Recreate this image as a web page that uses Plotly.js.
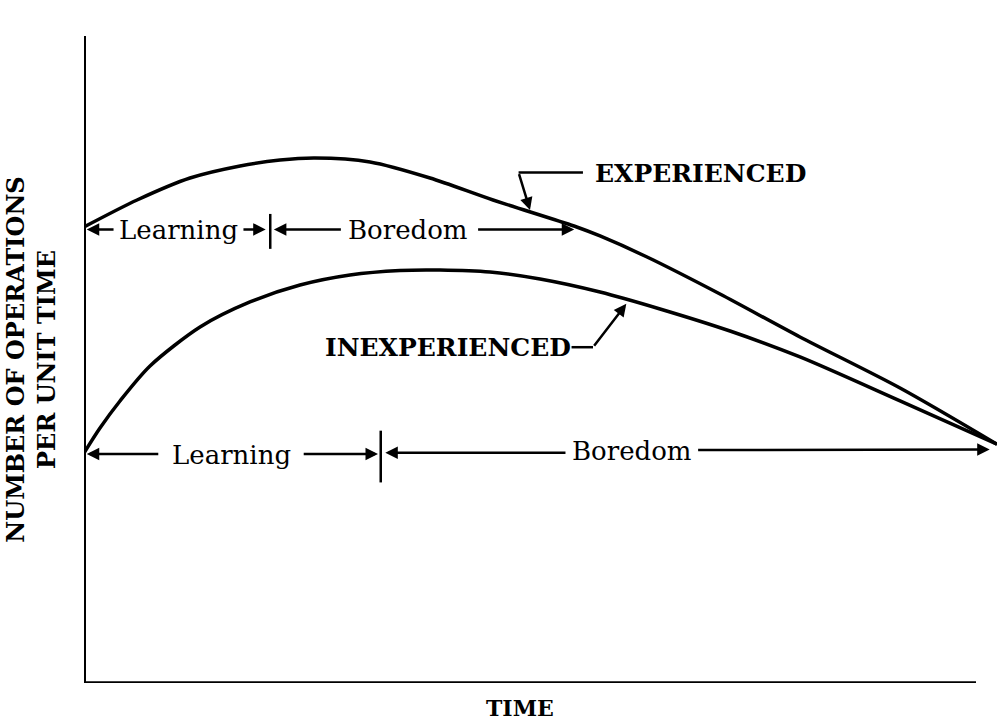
<!DOCTYPE html>
<html><head><meta charset="utf-8">
<script src="https://cdn.plot.ly/plotly-3.0.1.min.js"></script>
<style>html,body{margin:0;padding:0;background:#fff}</style>
</head><body><div id="chart" style="width:998px;height:721px"></div>
<script>
// Curves (arbitrary units, 0-100 on both axes)
const expX   = [0, 5.81, 11.61, 17.09, 21.47, 25.30, 31.33, 37.90, 44.80, 53.67, 56.52, 61.67, 69.66, 78.42, 89.38, 100];
const expY   = [70.48, 74.65, 78.05, 79.91, 80.83, 81.14, 80.53, 78.05, 74.65, 70.63, 69.09, 65.84, 60.12, 53.48, 45.59, 36.9];
const inexpX = [0, 1.75, 3.94, 7.23, 12.71, 18.18, 23.66, 29.13, 34.61, 38.99, 44.47, 49.95, 56.52, 63.09, 70.76, 78.42, 89.38, 100];
const inexpY = [35.55, 39.41, 43.59, 49.00, 55.02, 58.89, 61.51, 63.06, 63.76, 63.83, 63.52, 62.44, 60.43, 57.81, 54.40, 50.39, 43.59, 36.9];
const seriesNames = ['EXPERIENCED', 'INEXPERIENCED'];
const phaseNames = ['Learning', 'Boredom'];
const xTitle = 'TIME';
const yTitle = 'NUMBER OF OPERATIONS<br>PER UNIT TIME';

const FONT = 'DejaVu Serif';
const LW = 3.5;

const traces = [
  {x: expX, y: expY, mode: 'lines', name: seriesNames[0], line: {color: '#000', width: LW, shape: 'spline', smoothing: 0.8}},
  {x: inexpX, y: inexpY, mode: 'lines', name: seriesNames[1], line: {color: '#000', width: LW, shape: 'spline', smoothing: 0.8}}
];

function arrow(x, y, ax, ay) {
  return {x: x, y: y, ax: ax, ay: ay, xref: 'x', yref: 'y', axref: 'x', ayref: 'y',
    text: '', showarrow: true, arrowhead: 2, arrowsize: 1, arrowwidth: 2.5, arrowcolor: '#000', standoff: 0, startstandoff: 0};
}
function label(text, x, y, bold, size) {
  return {x: x, y: y, xref: 'x', yref: 'y', text: bold ? '<b>' + text + '</b>' : text, showarrow: false,
    font: {family: FONT, size: size || 26, color: '#000'}, xanchor: 'center', yanchor: 'middle'};
}
function seg(x0, y0, x1, y1, w) {
  return {type: 'line', xref: 'x', yref: 'y', x0: x0, y0: y0, x1: x1, y1: y1, line: {color: '#000', width: w || 2.5}};
}

const annotations = [
  // upper (experienced) phases
  arrow(0.3, 70.1, 3.4, 70.1),
  label(phaseNames[0], 10.3, 70.0),
  arrow(19.9, 70.1, 17.3, 70.1),
  arrow(20.8, 70.1, 28.3, 70.1),
  label(phaseNames[1], 35.5, 70.0),
  arrow(53.7, 70.1, 43.0, 70.1),
  // lower (inexperienced) phases
  arrow(0.3, 35.4, 8.3, 35.4),
  label(phaseNames[0], 16.2, 35.3),
  arrow(32.2, 35.4, 23.9, 35.4),
  arrow(33.0, 35.6, 52.9, 35.6),
  label(phaseNames[1], 60.0, 35.8),
  arrow(99.2, 36.1, 67.1, 36.0),
  // series labels
  label(seriesNames[0], 67.5, 78.7, true, 25),
  arrow(48.85, 73.1, 47.6, 78.9),
  label(seriesNames[1], 39.9, 51.9, true, 25),
  arrow(59.4, 58.6, 55.75, 51.9),
  // x title
  {x: 0.478, y: -0.039, xref: 'paper', yref: 'paper', text: '<b>' + xTitle + '</b>', showarrow: false,
   font: {family: FONT, size: 22, color: '#000'}, xanchor: 'center', yanchor: 'middle'}
];

const shapes = [
  // axes
  {type: 'line', xref: 'x', yref: 'paper', x0: 0, x1: 0, y0: 0, y1: 1, line: {color: '#000', width: 4}},
  {type: 'line', xref: 'x', yref: 'y', x0: -0.2, x1: 97.7, y0: 0, y1: 0, line: {color: '#000', width: 3.5}},
  // phase boundary ticks
  seg(20.4, 67.1, 20.4, 72.5, 2.5),
  seg(32.5, 31.0, 32.5, 39.0, 2.5),
  // leader lines
  seg(54.65, 78.9, 47.6, 78.9, 2.5),
  seg(53.4, 51.9, 55.75, 51.9, 2.5)
];

const layout = {
  width: 998, height: 721,
  margin: {l: 84, r: 1, t: 36, b: 38},
  paper_bgcolor: '#fff', plot_bgcolor: '#fff',
  showlegend: false,
  xaxis: {range: [0, 100], showgrid: false, zeroline: false, showticklabels: false, ticks: '', showline: false, fixedrange: true},
  yaxis: {range: [0, 100], showgrid: false, zeroline: false, showticklabels: false, ticks: '', showline: false, fixedrange: true,
    title: {text: '<b>' + yTitle + '</b>', font: {family: FONT, size: 24, color: '#000'}, standoff: 20}},
  annotations: annotations,
  shapes: shapes
};

Plotly.newPlot('chart', traces, layout, {staticPlot: true, displayModeBar: false});
</script>
</body></html>
